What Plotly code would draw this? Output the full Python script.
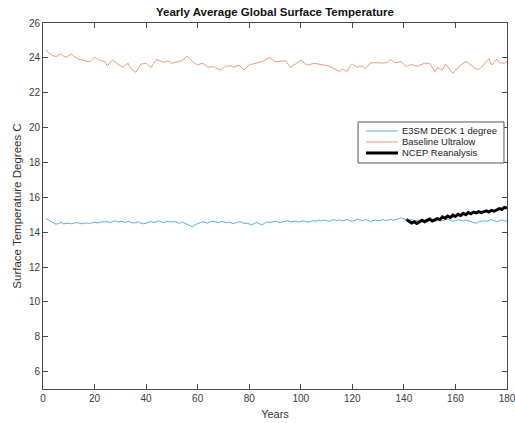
import plotly.graph_objects as go

# Model years on the x axis
years = list(range(1, 181))

# E3SM DECK 1 degree: yearly global mean surface temperature (deg C)
e3sm_deck = [
    14.80, 14.72, 14.60, 14.52, 14.45, 14.50, 14.55, 14.48, 14.50, 14.52,
    14.48, 14.50, 14.55, 14.52, 14.48, 14.50, 14.53, 14.50, 14.55, 14.58,
    14.52, 14.55, 14.60, 14.58, 14.62, 14.55, 14.60, 14.65, 14.58, 14.62,
    14.60, 14.55, 14.62, 14.58, 14.52, 14.55, 14.60, 14.50, 14.48, 14.52,
    14.58, 14.62, 14.55, 14.60, 14.65, 14.58, 14.55, 14.62, 14.60, 14.58,
    14.62, 14.55, 14.50, 14.58, 14.52, 14.45, 14.38, 14.30, 14.42, 14.50,
    14.55, 14.60, 14.58, 14.52, 14.60, 14.62, 14.58, 14.55, 14.62, 14.60,
    14.55, 14.58, 14.52, 14.48, 14.55, 14.60, 14.58, 14.50, 14.52, 14.48,
    14.42, 14.50, 14.55, 14.48, 14.40, 14.52, 14.58, 14.55, 14.60, 14.62,
    14.58, 14.55, 14.60, 14.62, 14.65, 14.58, 14.60, 14.63, 14.58, 14.62,
    14.65, 14.60, 14.58, 14.62, 14.66, 14.62, 14.68, 14.65, 14.70, 14.66,
    14.62, 14.68, 14.72, 14.66, 14.70, 14.65, 14.68, 14.72, 14.66, 14.62,
    14.68, 14.74, 14.70, 14.66, 14.72, 14.68, 14.62, 14.66, 14.70, 14.65,
    14.68, 14.72, 14.66, 14.70, 14.74, 14.68, 14.72, 14.78, 14.82, 14.76,
    14.70, 14.66, 14.72, 14.68, 14.64, 14.70, 14.66, 14.60, 14.65, 14.70,
    14.66, 14.62, 14.68, 14.72, 14.66, 14.70, 14.75, 14.68, 14.62, 14.66,
    14.72, 14.68, 14.64, 14.70, 14.66, 14.60, 14.55, 14.50, 14.58, 14.62,
    14.66, 14.62, 14.68, 14.72, 14.66, 14.60, 14.64, 14.70, 14.66, 14.62,
]

# Baseline Ultralow: yearly global mean surface temperature (deg C)
baseline_ultralow = [
    24.45, 24.30, 24.20, 24.12, 24.07, 24.15, 24.22, 24.10, 24.03, 24.12,
    24.22, 24.08, 23.98, 23.91, 23.88, 23.86, 23.84, 23.78, 23.90, 24.03,
    23.95, 23.84, 23.82, 23.78, 23.53, 23.75, 23.88, 23.75, 23.65, 23.55,
    23.46, 23.58, 23.69, 23.40, 23.28, 23.17, 23.40, 23.65, 23.66, 23.69,
    23.55, 23.46, 23.70, 23.91, 23.85, 23.78, 23.74, 23.80, 23.80, 23.69,
    23.74, 23.78, 23.80, 23.84, 24.00, 24.11, 23.95, 23.78, 23.68, 23.59,
    23.65, 23.69, 23.58, 23.46, 23.48, 23.50, 23.42, 23.36, 23.30, 23.42,
    23.53, 23.53, 23.53, 23.46, 23.52, 23.59, 23.45, 23.30, 23.45, 23.59,
    23.63, 23.68, 23.72, 23.75, 23.78, 23.86, 23.95, 24.03, 23.90, 23.78,
    23.78, 23.80, 23.82, 23.84, 23.65, 23.46, 23.55, 23.63, 23.75, 23.88,
    23.75, 23.62, 23.59, 23.64, 23.69, 23.67, 23.65, 23.62, 23.58, 23.55,
    23.52, 23.46, 23.40, 23.30, 23.21, 23.35, 23.30, 23.21, 23.50, 23.65,
    23.55, 23.46, 23.52, 23.50, 23.40, 23.55, 23.69, 23.72, 23.74, 23.72,
    23.70, 23.69, 23.72, 23.80, 23.91, 23.76, 23.72, 23.76, 23.78, 23.62,
    23.50, 23.57, 23.63, 23.57, 23.50, 23.56, 23.63, 23.69, 23.69, 23.69,
    23.45, 23.21, 23.45, 23.35, 23.30, 23.63, 23.50, 23.30, 23.11, 23.30,
    23.40, 23.59, 23.68, 23.78, 23.70, 23.59, 23.45, 23.36, 23.34, 23.47,
    23.59, 23.80, 23.97, 23.59, 23.75, 23.91, 23.72, 23.70, 23.69, 23.80,
]

# NCEP Reanalysis, aligned to the final 40 model years
ncep_years = list(range(141, 181))
ncep_reanalysis = [
    14.72, 14.62, 14.52, 14.60, 14.50, 14.58, 14.68, 14.60, 14.66, 14.75,
    14.64, 14.70, 14.78, 14.72, 14.88, 14.80, 14.92, 14.84, 14.98, 14.90,
    15.02, 14.95, 15.08, 15.00, 15.12, 15.05, 15.15, 15.10, 15.18, 15.12,
    15.16, 15.22, 15.15, 15.25, 15.20, 15.28, 15.35, 15.30, 15.42, 15.38,
]

series_names = ["E3SM DECK 1 degree", "Baseline Ultralow", "NCEP Reanalysis"]
series_colors = ["#5cb0e6", "#ee9a7e", "#000000"]
series_widths = [1, 1, 3]

FONT = "Liberation Sans, Arial, Helvetica, sans-serif"
AXIS_COLOR = "#4a4a4a"

fig = go.Figure()
for xs, ys, name, color, width in zip(
    [years, years, ncep_years],
    [e3sm_deck, baseline_ultralow, ncep_reanalysis],
    series_names, series_colors, series_widths,
):
    fig.add_trace(go.Scatter(
        x=xs, y=ys, mode="lines", name=name,
        line=dict(color=color, width=width), showlegend=False,
    ))

# Compact boxed legend in the upper right of the axes (paper coordinates)
leg_x0, leg_x1 = 0.679, 0.9935
leg_top, leg_bottom = 0.7295, 0.6175
row_y = [0.705, 0.675, 0.645]
sample_x0, sample_x1, text_x = 0.696, 0.765, 0.769

shapes = [dict(
    type="rect", xref="paper", yref="paper",
    x0=leg_x0, x1=leg_x1, y0=leg_bottom, y1=leg_top,
    line=dict(color="#555555", width=1), fillcolor="white", layer="above",
)]
annotations = []
for ry, name, color, width in zip(row_y, series_names, series_colors, series_widths):
    shapes.append(dict(
        type="line", xref="paper", yref="paper",
        x0=sample_x0, x1=sample_x1, y0=ry, y1=ry,
        line=dict(color=color, width=width), layer="above",
    ))
    annotations.append(dict(
        text=name, xref="paper", yref="paper", x=text_x, y=ry,
        xanchor="left", yanchor="middle", showarrow=False,
        font=dict(family=FONT, size=9.5, color="#1a1a1a"),
    ))

axis_common = dict(
    showgrid=False, zeroline=False,
    showline=True, linecolor=AXIS_COLOR, linewidth=1,
    mirror="ticks", ticks="inside", ticklen=5, tickcolor=AXIS_COLOR,
    tickfont=dict(family=FONT, size=10, color="#3a3a3a"),
    ticklabeloverflow="allow", automargin=False,
)

fig.update_layout(
    width=515, height=423,
    margin=dict(l=43, r=8, t=23, b=34, autoexpand=False),
    paper_bgcolor="white", plot_bgcolor="white",
    font=dict(family=FONT, color="#262626"),
    title=dict(
        text="<b>Yearly Average Global Surface Temperature</b>",
        font=dict(family=FONT, size=11.5, color="#111111"),
        x=0.5, xref="paper", xanchor="center",
        y=1, yref="container", yanchor="top", pad=dict(t=8),
        automargin=False,
    ),
    xaxis=dict(
        range=[0, 180], tickmode="array", tickvals=list(range(0, 181, 20)),
        title=dict(text="Years", font=dict(family=FONT, size=11, color="#333333"), standoff=7),
        **axis_common,
    ),
    yaxis=dict(
        range=[5, 26], tickmode="array", tickvals=list(range(6, 27, 2)),
        title=dict(text="Surface Temperature Degrees C",
                   font=dict(family=FONT, size=11.5, color="#333333"), standoff=4),
        **axis_common,
    ),
    shapes=shapes,
    annotations=annotations,
    showlegend=False,
)

fig.write_html("out.html")
